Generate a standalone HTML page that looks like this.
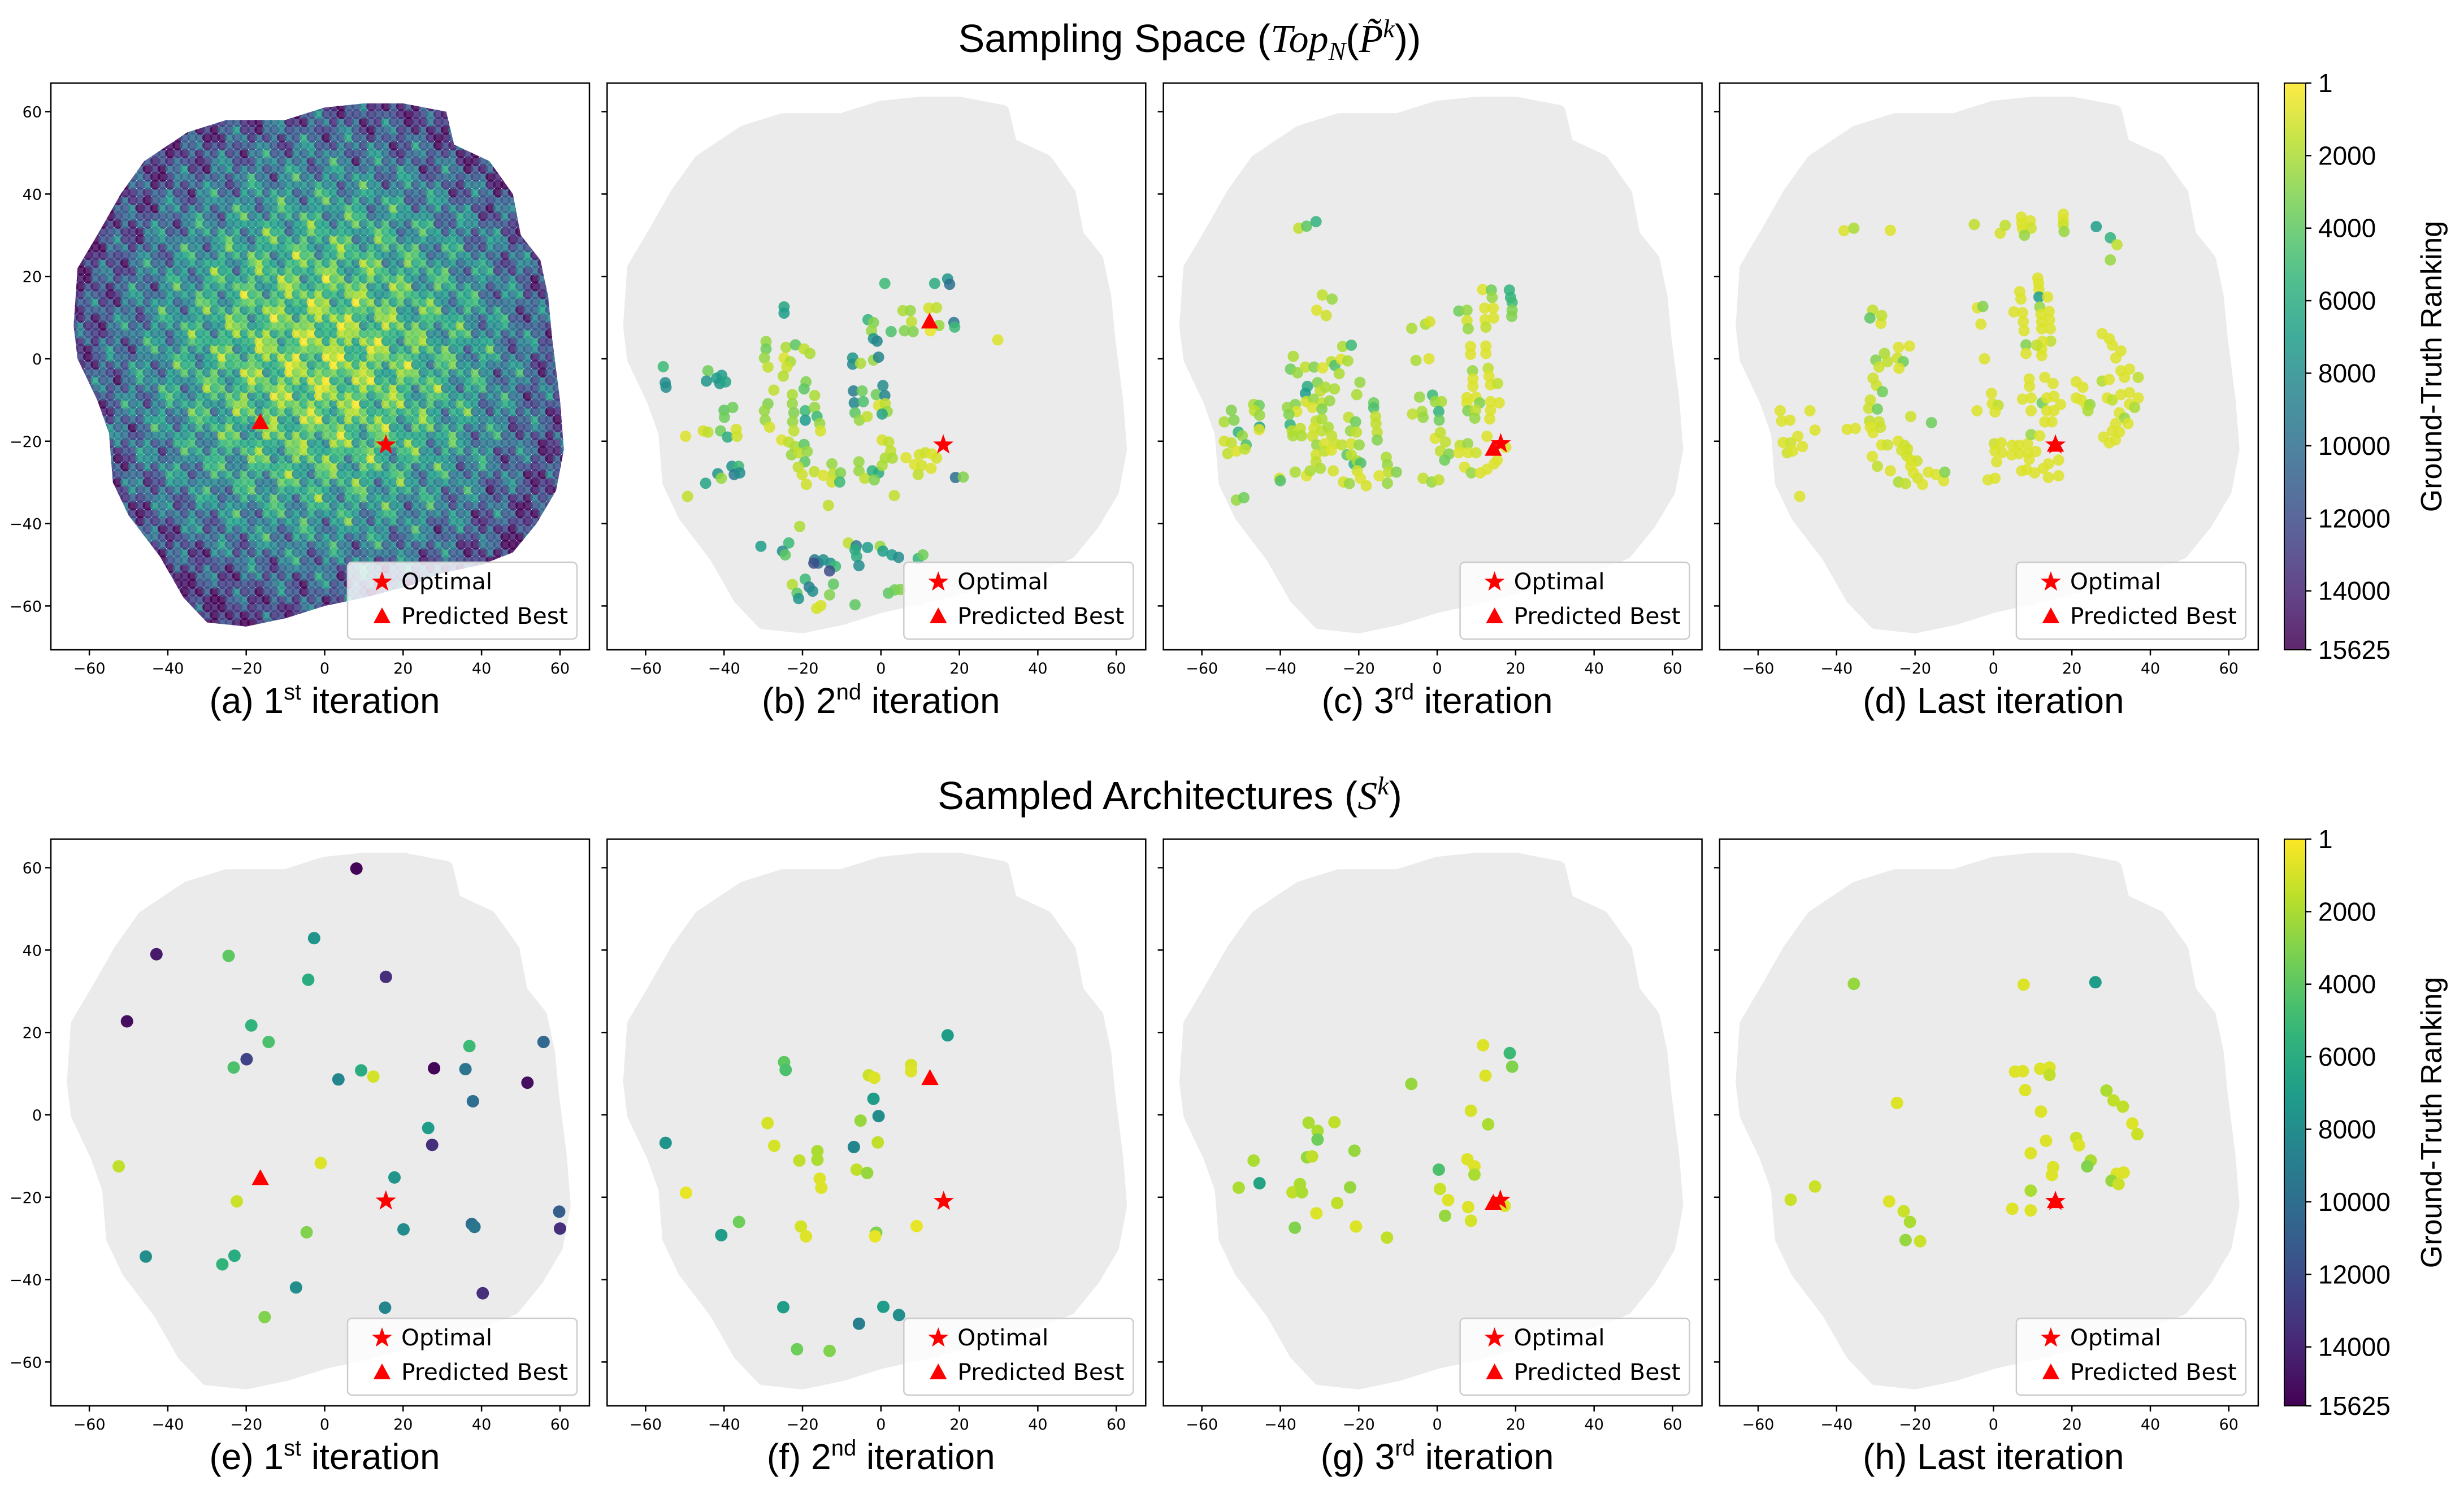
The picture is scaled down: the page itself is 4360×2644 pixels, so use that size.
<!DOCTYPE html>
<html><head><meta charset="utf-8">
<style>
html,body{margin:0;padding:0;background:#fff}
svg{display:block}
text{font-family:"DejaVu Sans","Liberation Sans",sans-serif}
</style></head>
<body>
<svg id="fig" xmlns="http://www.w3.org/2000/svg" width="4360" height="2644" viewBox="0 0 4360 2644">
<text x="2105" y="92" text-anchor="middle" font-size="70" style="font-family:'Liberation Sans',sans-serif">Sampling Space (<tspan style="font-family:'Liberation Serif',serif" font-style="italic">Top</tspan><tspan font-size="46" dy="14" style="font-family:'Liberation Serif',serif" font-style="italic">N</tspan><tspan dy="-14">(</tspan><tspan style="font-family:'Liberation Serif',serif" font-style="italic">P̃</tspan><tspan font-size="46" dy="-26" style="font-family:'Liberation Serif',serif" font-style="italic">k</tspan><tspan dy="26">))</tspan></text>
<text x="2070" y="1432" text-anchor="middle" font-size="70" style="font-family:'Liberation Sans',sans-serif">Sampled Architectures (<tspan style="font-family:'Liberation Serif',serif" font-style="italic">S</tspan><tspan font-size="46" dy="-26" style="font-family:'Liberation Serif',serif" font-style="italic">k</tspan><tspan dy="26">)</tspan></text>
<g id="panels"></g>
<g id="cbars"></g>
</svg>
<script>
// ---------- data (x, y, ground-truth rank) ----------
const panelB = [[1,18.3,5000],[13.7,18.3,6000],[17,19.4,7500],[17.5,18.1,10000],[-24.7,12.6,6500],[-24.7,11.1,7000],[-3.3,9.5,5500],[-1.9,8.8,3000],[-2.4,6.8,2500],[-1.9,4.9,7500],[-1,4.3,8500],[2.6,6.6,4500],[5.6,11.7,2000],[7.5,11.7,2500],[7.8,9,1500],[6,6.8,3000],[8.2,6.6,3000],[12.2,12.3,1000],[14.2,12.4,1500],[14.8,8.1,2500],[12.6,6.8,500],[18.6,8.8,9500],[18.8,7.7,5000],[29.8,4.6,800],[-29.3,4.2,2500],[-29.3,2.4,3500],[-24.2,2.8,2000],[-21.8,3.4,4000],[-19.6,2.4,1500],[-18.1,1.3,2000],[-29.7,0.2,2500],[-28.8,-2,1500],[-24.7,0.2,800],[-23.1,-0.7,2000],[-24,-2,1200],[-24.9,-4.2,1800],[-7.2,0.2,7500],[-7.2,-1.3,8000],[-5.2,-1.1,2000],[-1.9,-0.3,2500],[-0.6,0.4,8500],[-55.5,-1.9,5000],[-55,-5.8,8000],[-54.8,-6.9,8000],[-44.1,-2.9,3500],[-44.5,-5.4,7500],[-41.9,-4.7,7000],[-40.6,-4,7000],[-41.1,-6,7500],[-39.6,-5.6,6500],[-19.1,-5.6,3000],[-19.6,-7.3,4000],[-27.3,-7.6,1500],[-28.8,-10.9,3000],[-29.7,-12.6,2500],[-29.5,-14.9,2500],[-28.4,-16.6,1000],[-22.6,-8.7,2000],[-22.6,-10.9,2500],[-22.2,-13.1,3000],[-22.5,-15.3,2500],[-22.2,-17.5,1500],[-19.3,-12.6,5000],[-19.3,-14.9,7000],[-16.9,-8.9,2000],[-16.9,-11.8,2500],[-16.3,-14,5000],[-15.6,-15.7,2500],[-15.4,-17.5,1000],[-7,-7.8,9000],[-6.8,-10.7,8500],[-4.8,-7.8,3500],[-4.5,-10.4,4500],[-6.6,-13.1,4000],[-5.5,-14.9,2500],[-3.5,-14,1500],[-1.2,-8.7,3500],[0.5,-6.5,8000],[1,-8.9,8500],[-0.6,-11.3,800],[1.1,-10.9,1500],[1.6,-12.8,2500],[0.3,-13.4,6500],[-40,-12.5,4000],[-37.8,-11.8,3500],[-39.9,-14.2,3500],[-49.8,-18.8,800],[-45.3,-17.5,1000],[-44.1,-17.8,1500],[-40.9,-17.5,3500],[-39.1,-19,6000],[-36.9,-17.1,1000],[-36.7,-18.8,1200],[-25.3,-19.7,800],[-23.5,-20.2,1500],[-21.9,-21.3,2000],[-19.6,-20.8,4000],[-22.8,-23.3,2500],[-21,-22.8,1500],[-18.8,-22.5,2500],[-19.4,-25,4000],[-21.1,-26.3,1500],[-20.1,-28.1,1200],[-19,-30.5,1200],[-17,-27.4,1500],[-14.7,-28.3,800],[-12.5,-25.5,2500],[-12.1,-27.9,1500],[-12.5,-29.9,1000],[-10.3,-27.7,3000],[-10.5,-29.9,5000],[-5.6,-25,2500],[-5.6,-27.2,2500],[-4.1,-29,1500],[-2.2,-27.2,5500],[-0.6,-27.7,6000],[-1.7,-29.4,3000],[0.3,-25.9,2000],[1.1,-24.1,2000],[0.3,-19.7,1000],[2,-20.2,1500],[2.5,-22.4,1500],[2.9,-24.1,2000],[6.4,-24,800],[9.8,-23.3,1000],[11.3,-22.8,1200],[13,-23.1,800],[14.2,-24.1,1000],[8.6,-25.7,800],[10.4,-25.9,1000],[9.5,-28.1,1500],[12.8,-26.6,800],[19,-28.8,10000],[21,-28.7,3000],[3.4,-33.2,1500],[-13.4,-35.6,1500],[-49.3,-33.4,1500],[-44.7,-30.2,6500],[-41.6,-27.9,7500],[-40.7,-29,2500],[-38,-26.1,7500],[-36.3,-26.1,5000],[-37.4,-28.1,9000],[-36,-27.7,8000],[-20.7,-40.7,2000],[-30.6,-45.5,7000],[-23.5,-44.7,5000],[-25.1,-46.7,8000],[-24.4,-47.6,4000],[-8.3,-44.7,1500],[-6.3,-45.4,9000],[-6.6,-46.4,6000],[-3.4,-45.8,7000],[-0.2,-45.5,2500],[0.5,-46.7,7000],[-6.2,-48,6000],[-5.6,-50.2,8000],[2.8,-47.6,7000],[4.5,-48.2,8000],[9.5,-48.5,5500],[10.7,-47.6,3500],[-16.9,-48.8,9000],[-16,-49.6,10000],[-14.7,-48.8,8000],[-12.9,-49.6,7500],[-11.6,-50.4,5000],[-13.1,-51.5,12000],[-17.1,-49.6,12000],[-19.3,-53.5,5000],[-18.3,-55.4,9000],[-17.4,-56.4,8000],[-22.6,-54.8,1800],[-21.4,-56.9,4000],[-21,-58.2,7500],[-12.1,-54.7,4000],[-13.1,-57.3,3000],[-16.4,-60.6,1000],[-15.3,-59.9,1000],[-6.6,-59.7,4000],[1.9,-56.9,4000],[3.5,-56.1,3500],[4.9,-56,3000]];
const panelC = [[-35.3,31.7,1500],[-33.3,32.2,4000],[-30.9,33.3,5500],[-29.3,15.5,1500],[-26.8,14.5,2500],[-30.7,11.8,800],[-28.3,10.5,1200],[-6.5,7.4,2000],[-3,8.4,2000],[-1.9,9,1000],[11.6,16.8,800],[13.8,16.7,3500],[14,14.9,2500],[18.4,16.7,5500],[18.7,14.9,5500],[19.1,13.7,5000],[19.1,11.8,3000],[19,10.3,3000],[5.5,11.6,3500],[7.6,11.8,2500],[7.6,9.3,1000],[7.9,7.3,2500],[12.1,12.3,800],[14.3,12.3,800],[12.2,9.5,800],[14.4,9.9,800],[12.4,7.7,1500],[8.5,3,800],[8.5,1.1,800],[12.4,3.1,800],[12.4,1.3,800],[9,-2.9,2500],[9.1,-4.9,800],[9.1,-6.7,800],[13,-2.3,1500],[13.2,-4.2,800],[13.6,-6.3,800],[15.4,-6,1500],[7.6,-9.4,800],[7.6,-10.7,800],[9.9,-9.3,800],[10.8,-10.7,3000],[13.6,-10.4,800],[15.8,-10.7,800],[7.8,-12.6,3000],[9.8,-12.5,1500],[13.6,-12.5,800],[9.6,-14.4,2500],[13.4,-14.6,800],[-5.4,-0.4,2000],[-2.1,0,800],[-36.7,0.6,2000],[-37.4,-2.5,3500],[-35.6,-3.4,2500],[-33.6,-2,1500],[-31.4,-2,3000],[-29.2,-2.2,800],[-27,-0.7,1500],[-26.1,-1.6,4500],[-24.5,-0.1,800],[-24.1,3,2000],[-21.9,3.3,5000],[-22.8,-0.5,2000],[-25,-3.6,2000],[-30.5,-5.8,3000],[-33.1,-6.7,6000],[-33.6,-8.4,7000],[-29.8,-7.8,1500],[-28.5,-6.9,2000],[-26.2,-7.3,2000],[-33.4,-10.4,1000],[-31.5,-9.8,2500],[-29.3,-10.7,1500],[-27.4,-10.2,2500],[-31.8,-11.8,800],[-29.4,-12.2,3000],[-36.2,-11.1,3000],[-38.2,-11.8,2500],[-35.8,-12.8,800],[-37.5,-16,5500],[-37.8,-13.5,3000],[-37,-17.5,1500],[-34.9,-16.9,1500],[-36.8,-18.7,2000],[-34.6,-18.7,2000],[-30.9,-15.1,1500],[-29.4,-14.6,2000],[-31.4,-16.9,1000],[-29.4,-17.5,1500],[-27.8,-16.6,2000],[-26.9,-18.7,1500],[-31.8,-18.8,1200],[-30.7,-20.9,2500],[-28.7,-20.6,800],[-26.1,-20.6,1200],[-24.3,-20.9,1500],[-21.9,-20.6,1000],[-19.9,-20.9,2500],[-30.9,-23.3,1000],[-28.7,-22.4,1500],[-27,-22.2,800],[-23,-23.3,4000],[-21.2,-25.5,5500],[-21.9,-23.3,1500],[-20.4,-24.8,2000],[-19.5,-25.3,4500],[-30.9,-25,1500],[-29.8,-26.6,2000],[-26.5,-27.2,1000],[-36.2,-27.5,2000],[-33.3,-28.4,800],[-32.4,-27.2,2000],[-20.4,-27.2,1000],[-19.6,-29,800],[-18.1,-30.8,1000],[-23.9,-29.9,1000],[-22.4,-30.3,2500],[-40.2,-29,1000],[-40,-29.6,4500],[-51.2,-34.3,2500],[-49.3,-33.7,3500],[-54.3,-15.3,2000],[-52.5,-12.5,3000],[-51.8,-14.9,3000],[-50.7,-17.8,5500],[-49.7,-18.7,2500],[-48.7,-20.9,4500],[-54.3,-20,1000],[-52.5,-20.4,1500],[-53.4,-23,1500],[-51.2,-22.4,800],[-49,-21.9,1500],[-46.8,-11.1,2000],[-45.4,-11.3,3500],[-46.6,-12.6,1500],[-45.3,-13.7,2500],[-45.3,-16.6,6500],[-45.4,-17.2,800],[-20.5,-8.7,2000],[-19.7,-5.7,2500],[-16.2,-10.7,3500],[-16.2,-11.9,4500],[-15.7,-14,1500],[-15.6,-15.7,1500],[-15.3,-17.8,1500],[-15.3,-19.7,3000],[-22.6,-14.2,1500],[-20.8,-15.3,3500],[-22.1,-17.5,2500],[-20.6,-17.8,1500],[-13,-23.9,2000],[-12.7,-25.7,2500],[-12.4,-27.5,1500],[-10.4,-27.5,3000],[-12.7,-30.2,2500],[-14.8,-28.4,800],[-4.5,-9.3,2500],[-1.2,-8.8,5000],[-0.5,-10.4,2500],[1.1,-10.4,2000],[0.4,-12.8,5500],[0.5,-14.9,3500],[-3.9,-12.8,2000],[-6.3,-13.4,1500],[-3.6,-14.2,2500],[-0.5,-19.3,800],[0.8,-17.9,1500],[2.1,-20.2,1500],[0.8,-22.4,1500],[3,-23.1,3000],[1.9,-24.6,3500],[5.8,-21,1500],[7.8,-20.6,2500],[5.5,-22.8,800],[7.9,-22.8,800],[9.9,-22.8,1200],[7,-26.3,800],[8.7,-27.7,2500],[11,-27.7,800],[12.7,-26.8,800],[14.5,-25.5,800],[15.3,-24.6,800],[12.7,-18.8,800],[17.5,-21.5,800],[-3.6,-29,1500],[-1.4,-29.9,2500],[0.4,-29.4,1500]];
const panelD = [[-38.1,31.1,800],[-35.6,31.7,2000],[-26.3,31.2,800],[-4.9,32.6,1500],[1.7,30.5,1000],[3,32.4,1500],[7.1,34.4,800],[7.2,32.9,800],[7.4,31.6,800],[9.4,33.5,800],[9.6,31.7,1200],[7.9,30,2500],[17.8,35.1,800],[17.8,33.8,800],[17.8,32.6,1200],[18,30.9,2500],[26.2,32.1,7000],[29.8,29.4,5500],[31.5,27.7,1500],[29.8,24,2500],[11.3,19.6,800],[11.5,18.3,800],[11.6,16.8,800],[11.6,15,7000],[13.8,15,800],[6.7,16.3,800],[7,14.5,800],[11.8,12.6,2500],[12.1,10.8,800],[12.3,9,800],[12.3,7.3,800],[14.2,11.5,800],[14.3,9.5,800],[14.5,7.3,800],[14.6,4.3,1500],[12.5,4.2,800],[12.3,2.4,800],[12.3,0.8,800],[5.2,11.4,800],[7.4,11.2,800],[7.6,9,800],[7.8,6.8,800],[8.3,3.4,3000],[8.3,1.3,800],[11,3.3,1500],[-4.1,12.4,800],[-2.7,12.7,3000],[-3.2,8.4,800],[-2.3,0,800],[-30.8,11.8,1500],[-31.5,9.9,4000],[-28.7,8.6,800],[-28.5,10.5,1500],[-27.8,1.3,2000],[-30,-0.3,3000],[-29.2,-2,1200],[-27,-0.7,1500],[-24.5,0.2,1200],[-24.2,2.8,800],[-21.4,3.1,800],[-23,-0.7,3500],[-24.1,-2.3,800],[-30.7,-4.7,1200],[-29.8,-6.5,1200],[-28.3,-8,3500],[-31.4,-10,1200],[-31.8,-12,1200],[-29.6,-12.2,3500],[-31.6,-15.1,1500],[-29.2,-15.3,1200],[-31.4,-16.6,800],[-30.7,-17.9,800],[-28.8,-16.6,1200],[-54.4,-12.6,800],[-54,-15.1,800],[-51.9,-14.9,800],[-46.8,-12.6,800],[-45.5,-17.3,800],[-53.6,-20.3,800],[-51.7,-20.4,1200],[-52.6,-22.8,1200],[-51.2,-22.4,800],[-49.9,-18.8,800],[-48.7,-21.3,800],[-37.3,-17.1,800],[-35.2,-16.9,800],[-21.1,-14,1200],[-15.8,-15.5,3500],[-28.5,-20.9,800],[-27,-20.9,1200],[-24.3,-20,800],[-22.7,-21,1200],[-21.9,-21.9,1200],[-22.1,-23.5,1200],[-23.4,-22.2,1000],[-21.1,-24.6,800],[-19.5,-24.8,1200],[-21.1,-26.1,800],[-20.4,-27.7,800],[-19.3,-29,1000],[-18.1,-30.5,800],[-30.9,-23.7,800],[-29.6,-26.1,1500],[-26.3,-27.2,800],[-24.2,-29.9,2000],[-22.4,-30.3,1500],[-16.6,-27.5,800],[-14.7,-28.1,800],[-12.7,-29.6,800],[-12.4,-27.5,3000],[-49.4,-33.4,800],[-4.2,-12.6,800],[-0.5,-8.4,800],[-0.3,-10.9,800],[1.2,-11.3,1500],[0.4,-12.9,800],[0.2,-20.6,1200],[2,-20.4,800],[0.4,-22.4,800],[2.2,-22.8,800],[0.8,-25,800],[-1.4,-29.4,800],[0.4,-29,800],[4.8,-21,800],[6.5,-21,800],[8.7,-20.6,800],[9.6,-18.4,2500],[11.8,-18.7,800],[4.7,-23.3,800],[6.6,-23,800],[8.8,-22.8,800],[10.8,-22.5,800],[7.2,-27.2,800],[8.5,-26.9,800],[10.5,-27.7,800],[12.7,-26.6,800],[14,-25.5,800],[16.6,-24.6,800],[14,-28.8,800],[16.6,-28.4,800],[9.1,-24.4,800],[13.1,-4.5,800],[15.2,-6,800],[9.1,-4.9,800],[9.2,-6.7,800],[7.4,-9.8,800],[9.6,-9.5,800],[12.4,-10.7,3500],[13.6,-9.5,800],[15.4,-9.1,800],[17.1,-11.1,800],[13.6,-12.6,800],[15.4,-12.6,800],[13.1,-15.3,800],[14.9,-15.3,800],[9.6,-12.6,800],[21.1,-5.6,800],[22.8,-6.9,800],[21.1,-9.5,800],[22.4,-10,800],[23.7,-11.3,800],[24.6,-11.1,2500],[24.1,-12.6,2000],[27.7,-5.4,1800],[29.5,-5,800],[27.7,6.1,800],[29.5,4.9,800],[30.3,3.3,800],[32.5,1.9,800],[31.2,0.2,800],[32.5,-2.9,800],[34.7,-2.5,800],[36.9,-4.5,1500],[33.4,-4.5,800],[29,-9.5,800],[30.3,-10,1500],[32.5,-8.7,800],[34.7,-8.2,800],[36.9,-9.5,800],[34.7,-11,800],[36,-11.8,2000],[32.1,-13.1,800],[33.4,-14.4,2500],[31.2,-15.7,800],[34.3,-15.7,800],[30.3,-17.5,800],[32.1,-17.8,800],[28.1,-19,800],[29.5,-20.4,800],[31.1,-19.7,800]];
const panelE = [[8.1,59.8,15500],[-42.9,39,14500],[-24.5,38.6,4000],[-2.7,42.9,7500],[-4.2,32.8,6000],[15.6,33.5,13500],[-50.4,22.7,15000],[-18.7,21.7,5500],[-14.3,17.7,4500],[-19.9,13.5,12500],[-23.2,11.5,4500],[3.5,8.6,8500],[9.3,10.8,6000],[12.4,9.3,1000],[27.9,11.3,15500],[35.9,11.1,9500],[36.9,16.7,5000],[55.8,17.7,10500],[51.7,7.8,15000],[37.8,3.3,10000],[26.4,-3.2,7000],[27.4,-7.3,13500],[-52.5,-12.5,1500],[-1,-11.7,800],[17.8,-15.2,7500],[-22.4,-21,1200],[20.1,-27.8,8000],[-4.6,-28.5,3000],[37.5,-26.5,10000],[38.2,-27.2,9500],[59.8,-23.5,11000],[60,-27.6,13500],[-45.6,-34.4,8000],[-23,-34.2,6000],[-26.1,-36.3,5500],[-7.3,-41.9,8000],[40.3,-43.3,13500],[15.4,-46.8,8500],[-15.3,-49.1,3000]];
const panelF = [[17,19.3,7000],[-24.7,12.8,4000],[-24.3,10.9,4500],[7.7,12.1,1000],[7.7,10.6,800],[-3.1,9.6,1200],[-1.7,9,800],[-1.9,3.9,7000],[-0.6,-0.3,8000],[-5.2,-1.4,2500],[-28.9,-2,1000],[-27.2,-7.5,1000],[-0.8,-6.7,1500],[-6.9,-7.8,8500],[-54.9,-6.8,7500],[-16.2,-8.8,2000],[-16.2,-10.9,2000],[-20.8,-11.1,1500],[-6.2,-13.3,1500],[-3.5,-14.1,2500],[-15.6,-15.5,800],[-15.2,-17.7,800],[-49.7,-18.9,500],[-36.2,-26,3500],[-20.4,-27.1,1000],[-19.1,-29.5,800],[9.1,-27,500],[-1.2,-28.6,3000],[-1.5,-29.5,500],[-40.7,-29.2,7000],[-24.9,-46.7,7000],[0.6,-46.6,7000],[4.6,-48.6,8000],[-5.6,-50.7,9000],[-21.4,-56.9,3500],[-13.1,-57.3,3000]];
const panelG = [[11.7,16.9,800],[18.5,15,5000],[19.1,11.7,3000],[-6.6,7.5,2500],[12.3,9.5,800],[8.6,1,1000],[13,-2.3,2000],[-32.8,-1.9,2000],[-26.2,-1.8,1500],[-30.5,-3.9,2000],[-30.5,-6,3500],[-21.1,-8.7,2500],[-46.8,-11.1,2000],[-33.2,-10.3,2500],[-31.9,-10.1,1500],[7.7,-10.8,800],[9.5,-12.5,800],[9.5,-14.5,2000],[0.4,-13.3,4500],[-45.3,-16.6,6500],[-50.6,-17.7,2000],[-35,-16.8,2000],[-36.9,-18.8,1500],[-34.5,-18.8,2000],[-22.2,-17.6,2500],[0.7,-18,1200],[2.8,-20.7,800],[-25.5,-21.4,1500],[-30.8,-23.9,800],[7.9,-22.4,800],[2,-24.5,2500],[8.6,-25.7,1000],[-20.7,-27.1,800],[-36.3,-27.4,3000],[-12.8,-29.8,1500],[17.2,-22.1,800]];
const panelH = [[-35.6,31.8,2500],[7.7,31.6,800],[26,32.2,7000],[5.5,10.5,800],[7.5,10.6,800],[11.9,11.2,800],[14.3,11.5,800],[14.3,9.7,1500],[8.1,6,800],[-24.6,2.9,800],[12.1,0.8,800],[28.8,5.9,2000],[30.6,3.5,1500],[33,2,1500],[35.4,-2.1,800],[36.7,-4.7,1200],[13.4,-6.3,800],[21.1,-5.6,1200],[21.8,-7.4,800],[9.5,-9.3,800],[24.8,-11.1,2000],[23.9,-12.5,3000],[15.2,-12.7,800],[14.9,-14.6,800],[31.4,-14.3,800],[33.2,-14,800],[30.1,-16,2500],[31.9,-16.8,1200],[9.5,-18.4,2000],[-45.5,-17.4,1200],[-51.7,-20.6,1200],[-26.6,-21,800],[-22.9,-23.4,1200],[-21.3,-26,2000],[-22.4,-30.4,2500],[-18.7,-30.7,1200],[4.8,-22.8,800],[9.5,-23.2,800]];
const predictedBest = [[-16.4,-15.4],[12.4,9],[14.3,-21.9],[15.8,-20.9],[-16.4,-15.4],[12.5,8.9],[14.3,-21.4],[15.8,-21]];
const optimalPos = [[15.6,-20.9],[15.9,-20.9],[16.2,-20.6],[15.8,-20.9],[15.6,-20.9],[16,-21],[16.1,-20.7],[15.8,-21]];
const xTicks = [-60,-40,-20,0,20,40,60];
const yTicks = [-60,-40,-20,0,20,40,60];
const cbTicks = [1,2000,4000,6000,8000,10000,12000,14000,15625];
const panelLabels = [["(a) 1","st"," iteration"],["(b) 2","nd"," iteration"],["(c) 3","rd"," iteration"],["(d) Last iteration","",""],["(e) 1","st"," iteration"],["(f) 2","nd"," iteration"],["(g) 3","rd"," iteration"],["(h) Last iteration","",""]];
const blobOutline = [[-46,48],[-35,55],[-25,58],[-10,58],[0,61],[10,62],[20,62],[31,60],[33,52],[42,48],[48,40],[50,30],[55,24],[57,15],[58,5],[60,-10],[61,-22],[59,-32],[54,-40],[48,-47],[40,-50],[30,-52],[22,-55],[10,-58],[0,-60],[-10,-63],[-20,-65],[-30,-64],[-36,-58],[-42,-48],[-50,-38],[-54,-30],[-55,-18],[-58,-10],[-63,0],[-64,8],[-63,22],[-58,30],[-52,40]];
const MAXR = 15625;

// ---------- helpers ----------
const NS = "http://www.w3.org/2000/svg";
const VIR = [[68,1,84],[72,40,120],[62,74,137],[49,104,142],[38,130,142],[31,158,137],[53,183,121],[110,206,88],[181,222,43],[253,231,37]];
function viridis(t){t=Math.max(0,Math.min(1,t));const p=t*(VIR.length-1);const i=Math.min(VIR.length-2,Math.floor(p));const f=p-i;const a=VIR[i],b=VIR[i+1];return `rgb(${Math.round(a[0]+(b[0]-a[0])*f)},${Math.round(a[1]+(b[1]-a[1])*f)},${Math.round(a[2]+(b[2]-a[2])*f)})`;}
function rankColor(r){return viridis(1-(r-1)/(MAXR-1));}
function mk(tag,attrs,parent){const e=document.createElementNS(NS,tag);for(const k in attrs)e.setAttribute(k,attrs[k]);if(parent)parent.appendChild(e);return e;}
const PW=953, PH=1003, STEP=984.3, LEFT0=90, TOPS=[147,1485], SX=6.94, SY=7.29;
function starPath(cx,cy,R){const r=R*0.4;let d="";for(let i=0;i<10;i++){const a=-Math.PI/2+i*Math.PI/5;const rr=i%2?r:R;d+=(i?"L":"M")+(cx+rr*Math.cos(a)).toFixed(1)+" "+(cy+rr*Math.sin(a)).toFixed(1);}return d+"Z";}
function triPath(cx,cy,s){return `M${cx} ${cy-s}L${cx+s*0.95} ${cy+s*0.75}L${cx-s*0.95} ${cy+s*0.75}Z`;}

const root=document.getElementById("panels");
const series=[null,panelB,panelC,panelD,panelE,panelF,panelG,panelH];
for(let p=0;p<8;p++){
  const row=Math.floor(p/4), col=p%4;
  const L=LEFT0+col*STEP, T=TOPS[row];
  const x0=L+484.5, y0=T+488;
  const X=v=>x0+v*SX, Y=v=>y0-v*SY;
  const g=mk("g",{},root);
  
  
  const cid="clip"+p;
  const defs=mk("defs",{},g);
  const cp=mk("clipPath",{id:cid},defs);
  const bd=blobOutline.map((q,i)=>(i?"L":"M")+X(q[0]).toFixed(1)+" "+Y(q[1]).toFixed(1)).join("")+"Z";
  mk("path",{d:bd},cp);
  if(p===0){
    const tg=mk("g",{"clip-path":`url(#${cid})`},g);
    
    
    for(let i=0;i<68;i++){for(let j=0;j<68;j++){
      const xx=-66+i*1.9, yy=-66+j*1.9;
      const rad=Math.sqrt(xx*xx+yy*yy)/62;
      let t=0.78-0.6*Math.pow(rad,1.6)+0.22*Math.sin(xx*0.55+yy*0.2)*Math.cos(yy*0.47-xx*0.1)+0.14*Math.sin(xx*1.7+yy*2.3);
      mk("circle",{cx:X(xx).toFixed(1),cy:Y(yy).toFixed(1),r:9,fill:viridis(t),"fill-opacity":0.85},tg);
    }}
  } else {
    const blob=mk("path",{d:bd,fill:"#ebebeb",stroke:"#ebebeb","stroke-width":24,"stroke-linejoin":"round"},g);
    
    
    const pts=mk("g",{},g);
    
    
    const arr=series[p];
    const rr=row===0?10:11;
    const op=row===0?0.85:1;
    arr.forEach(q=>{
      const c=mk("circle",{cx:X(q[0]).toFixed(1),cy:Y(q[1]).toFixed(1),r:rr,fill:rankColor(q[2]),"fill-opacity":op},pts);
      
      
    });
  }
  const o=optimalPos[p];
  const st=mk("path",{d:starPath(X(o[0]),Y(o[1]),19),fill:"red"},g);
  
  
  const pb=predictedBest[p];
  const tr=mk("path",{d:triPath(X(pb[0]),Y(pb[1]),16),fill:"red"},g);
  
  
  const fr=mk("rect",{x:L,y:T,width:PW,height:PH,fill:"none",stroke:"#000","stroke-width":2.5},g);
  
  
  xTicks.forEach(v=>{
    mk("line",{x1:X(v),x2:X(v),y1:T+PH,y2:T+PH+10,stroke:"#000","stroke-width":2.5},g);
    const t=mk("text",{x:X(v),y:T+PH+42,"text-anchor":"middle","font-size":27},g);
    t.textContent=(v<0?"\u2212":"")+Math.abs(v);
    
    
  });
  yTicks.forEach(v=>{
    mk("line",{x1:L-10,x2:L,y1:Y(v),y2:Y(v),stroke:"#000","stroke-width":2.5},g);
    if(col===0){
      const t=mk("text",{x:L-16,y:Y(v)+10,"text-anchor":"end","font-size":27},g);
      t.textContent=(v<0?"\u2212":"")+Math.abs(v);
      
      
    }
  });
  const lg=mk("g",{},g);
  
  
  const lx=L+PW-428, ly=T+848;
  mk("rect",{x:lx,y:ly,width:406,height:136,rx:8,fill:"#fff","fill-opacity":0.8,stroke:"#ccc","stroke-width":2.5},lg);
  mk("path",{d:starPath(lx+61,ly+35,19),fill:"red"},lg);
  mk("path",{d:triPath(lx+61,ly+96,16),fill:"red"},lg);
  const t1=mk("text",{x:lx+95,y:ly+48,"font-size":40,textLength:161,lengthAdjust:"spacingAndGlyphs"},lg);
  t1.textContent="Optimal";
  
  
  const t2=mk("text",{x:lx+95,y:ly+109,"font-size":40,textLength:295,lengthAdjust:"spacingAndGlyphs"},lg);
  t2.textContent="Predicted Best";
  
  
  const lab=panelLabels[p];
  const st2=mk("text",{x:x0,y:T+PH+112,"text-anchor":"middle","font-size":64,style:"font-family:'Liberation Sans',sans-serif"},g);
  
  
  const a=mk("tspan",{},st2);a.textContent=lab[0];
  if(lab[1]){const b=mk("tspan",{"font-size":40,dy:-24},st2);b.textContent=lab[1];const c=mk("tspan",{dy:24},st2);c.textContent=lab[2];}
}

const cbg=document.getElementById("cbars");
const dg=mk("defs",{},cbg);
const lgr=mk("linearGradient",{id:"vir",x1:0,y1:0,x2:0,y2:1},dg);
for(let i=0;i<=20;i++){mk("stop",{offset:(i/20),"stop-color":viridis(1-i/20)},lgr);}
for(let r=0;r<2;r++){
  const T=TOPS[r], CX=4042, CW=38;
  const g=mk("g",{},cbg);
  
  
  mk("rect",{x:CX,y:T,width:CW,height:PH,fill:"url(#vir)","fill-opacity":r===0?0.85:1,stroke:"#000","stroke-width":2},g);
  cbTicks.forEach(v=>{
    const y=T+(v-1)/(MAXR-1)*PH;
    mk("line",{x1:CX+CW,x2:CX+CW+10,y1:y,y2:y,stroke:"#000","stroke-width":2.5},g);
    const t=mk("text",{x:CX+CW+22,y:y+16,"font-size":46,style:"font-family:'Liberation Sans',sans-serif"},g);
    t.textContent=v;
    
    
  });
  const tt=mk("text",{x:0,y:0,"font-size":52,"text-anchor":"middle",transform:`translate(4320 ${T+PH/2}) rotate(-90)`,style:"font-family:'Liberation Sans',sans-serif"},g);
  tt.textContent="Ground-Truth Ranking";
  
  
}
</script>
</body></html>
